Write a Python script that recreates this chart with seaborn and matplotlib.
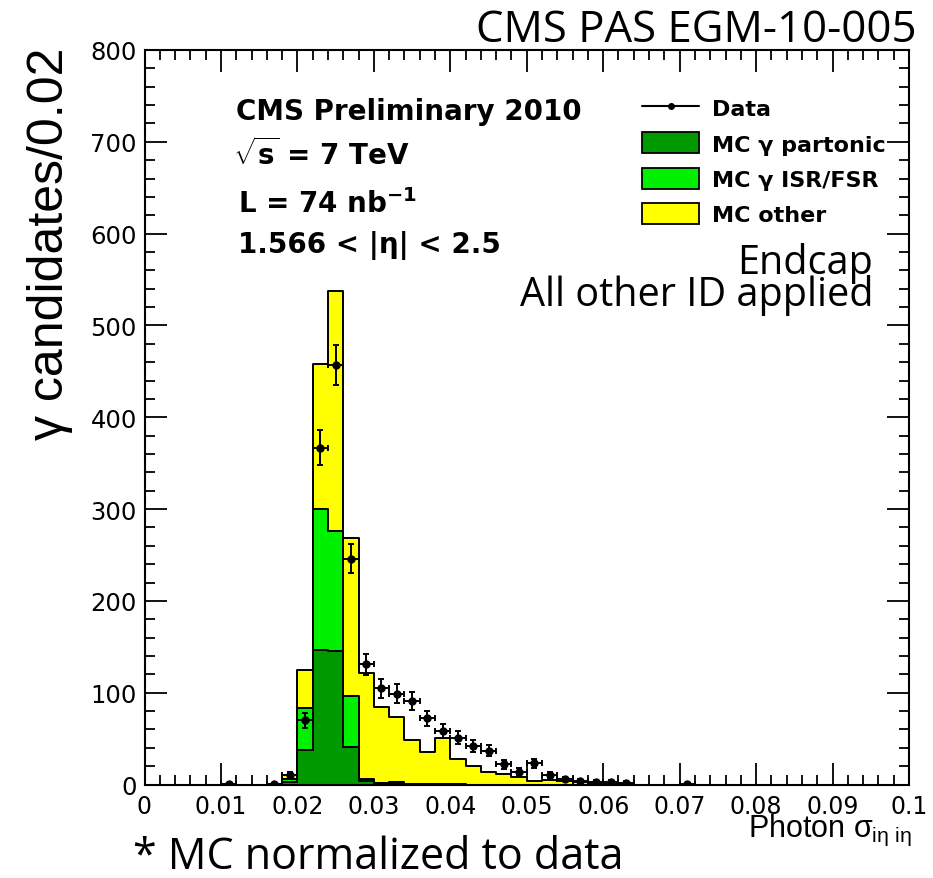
import numpy as np
import pandas as pd
import matplotlib
matplotlib.use("Agg")
import matplotlib.pyplot as plt
from matplotlib.lines import Line2D
from matplotlib.patches import Patch
import seaborn as sns

# ---------------- data ----------------
# MC stack (bin centres, bin width 0.002)
mc_x = [0.019, 0.021, 0.023, 0.025, 0.027, 0.029, 0.031, 0.033, 0.035, 0.037,
        0.039, 0.041, 0.043, 0.045, 0.047, 0.049, 0.051, 0.053, 0.055, 0.057,
        0.059, 0.061, 0.063]
mc_partonic = [3, 38, 147, 145, 41, 4, 1, 1, 0, 0,
               0, 0, 0, 0, 0, 0, 0, 0, 0, 0,
               0, 0, 0]
mc_isr = [3, 45, 153, 131, 55, 2, 1, 2, 0.5, 0.5,
          0.5, 0.3, 0, 0, 0, 0, 0, 0, 0, 0,
          0, 0, 0]
mc_other = [4, 42, 158, 262, 173, 115, 82, 71, 48, 35,
            50.5, 27.5, 20, 14, 11.8, 8.2, 3.8, 4.9, 4, 2.5,
            1.8, 1, 0.5]

# Data points
data_x = [0.011, 0.017, 0.019, 0.021, 0.023, 0.025, 0.027, 0.029, 0.031, 0.033,
          0.035, 0.037, 0.039, 0.041, 0.043, 0.045, 0.047, 0.049, 0.051, 0.053,
          0.055, 0.057, 0.059, 0.061, 0.063, 0.071]
data_y = [1, 1, 10, 70, 367, 457, 246, 131, 105, 99,
          91, 72, 58, 51, 42, 37, 22, 14, 23, 10,
          6, 4, 3, 3, 2, 1]

xtick_vals = [0, 0.01, 0.02, 0.03, 0.04, 0.05, 0.06, 0.07, 0.08, 0.09, 0.1]
xtick_labels = ["0", "0.01", "0.02", "0.03", "0.04", "0.05", "0.06", "0.07", "0.08", "0.09", "0.1"]
ytick_vals = [0, 100, 200, 300, 400, 500, 600, 700, 800]

legend_labels = ["Data", "MC \u03b3 partonic", "MC \u03b3 ISR/FSR", "MC other"]

# ---------------- style ----------------
sns.set_style("ticks")
plt.rcParams["font.family"] = ["DejaVu Sans"]
plt.rcParams["text.color"] = "black"
plt.rcParams["axes.labelcolor"] = "black"
plt.rcParams["xtick.color"] = "black"
plt.rcParams["ytick.color"] = "black"
plt.rcParams["xtick.labelcolor"] = "black"
plt.rcParams["ytick.labelcolor"] = "black"
plt.rcParams["mathtext.fontset"] = "custom"
plt.rcParams["mathtext.rm"] = "Liberation Sans"
plt.rcParams["mathtext.it"] = "Liberation Sans"
plt.rcParams["mathtext.bf"] = "DejaVu Sans:bold"

C_DARK = "#009a00"
C_LIGHT = "#00f000"
C_YEL = "#ffff00"

W, H = 933, 879
fig = plt.figure(figsize=(W / 100, H / 100), dpi=100)
ax = fig.add_axes([144.5 / W, 1 - 785.5 / H, (909 - 144.5) / W, (785.5 - 51) / H])

df = pd.DataFrame({"x": mc_x, "part": mc_partonic, "isr": mc_isr, "other": mc_other})
df["c_green"] = df["part"] + df["isr"]
df["c_total"] = df["c_green"] + df["other"]

for col, colr in [("c_total", C_YEL), ("c_green", C_LIGHT), ("part", C_DARK)]:
    sns.histplot(data=df, x="x", weights=col, binwidth=0.002, binrange=(0.018, 0.064),
                 element="step", fill=True,
                 facecolor=colr, edgecolor="black", linewidth=1.4, alpha=1, ax=ax)

dy = np.sqrt(np.array(data_y, dtype=float))
ax.errorbar(data_x, data_y, xerr=0.001, yerr=dy, fmt="o", color="black",
            ms=5, elinewidth=1.4, capsize=2.5, capthick=1.4, zorder=5)

ax.set_xlim(0, 0.1)
ax.set_ylim(0, 800)
ax.set_xticks(xtick_vals)
ax.set_xticklabels(xtick_labels)
ax.set_yticks(ytick_vals)
ax.xaxis.set_minor_locator(matplotlib.ticker.MultipleLocator(0.002))
ax.yaxis.set_minor_locator(matplotlib.ticker.MultipleLocator(20))
ax.tick_params(which="both", direction="in", top=True, right=True, width=1.3, color="black")
ax.tick_params(which="major", length=15.5)
ax.tick_params(which="minor", length=7.5)
ax.tick_params(axis="x", which="major", labelsize=17, pad=6.5)
ax.tick_params(axis="y", which="major", labelsize=17.5, pad=5.5)
for s in ax.spines.values():
    s.set_linewidth(1.5)
    s.set_color("black")
ax.set_xlabel("")
ax.set_ylabel("")
ax.grid(False)

# axis titles
fig.text(50 / W, 1 - 48 / H, "\u03b3 candidates/0.02", rotation=90, ha="center", va="top",
         fontsize=36, family="Liberation Sans")
fig.text(912 / W, 1 - 837 / H, "Photon $\\sigma_{i\\eta\\ i\\eta}$", ha="right", va="baseline",
         fontsize=22, family="Liberation Sans")

# header / annotations
fig.text(917 / W, 1 - 42 / H, "CMS PAS EGM-10-005", ha="right", va="baseline",
         fontsize=31.5, family="Open Sans")
fig.text(873 / W, 1 - 316 / H, "Endcap\nAll other ID applied", ha="right", va="bottom",
         multialignment="right", linespacing=0.72, fontsize=28.5, family="Open Sans")
fig.text(133 / W, 1 - 869 / H, "* MC normalized to data", ha="left", va="baseline",
         fontsize=31, family="Open Sans")

bold = dict(fontsize=20, fontweight="bold", ha="left", va="baseline")
fig.text(236 / W, 1 - 120 / H, "CMS Preliminary 2010", **bold)
fig.text(233 / W, 1 - 165 / H, "$\\sqrt{\\mathbf{s}}$ = 7 TeV", **bold)
fig.text(238 / W, 1 - 213 / H, "L = 74 nb$^{\\mathbf{-1}}$", **bold)
fig.text(238 / W, 1 - 253 / H, "1.566 < |\u03b7| < 2.5", **bold)

handles = [
    Line2D([], [], color="black", lw=1.5, marker="o", ms=4),
    Patch(facecolor=C_DARK, edgecolor="black", lw=1.3),
    Patch(facecolor=C_LIGHT, edgecolor="black", lw=1.3),
    Patch(facecolor=C_YEL, edgecolor="black", lw=1.3),
]
leg = ax.legend(handles, legend_labels, loc="upper left",
                bbox_to_anchor=(641.7 / W, 1 - 98 / H), bbox_transform=fig.transFigure,
                frameon=False, borderpad=0, borderaxespad=0, numpoints=1,
                handlelength=2.6, handleheight=1.08, handletextpad=0.55, labelspacing=0.6,
                prop={"weight": "bold", "size": 16})

fig.savefig("out.png", dpi=100)
